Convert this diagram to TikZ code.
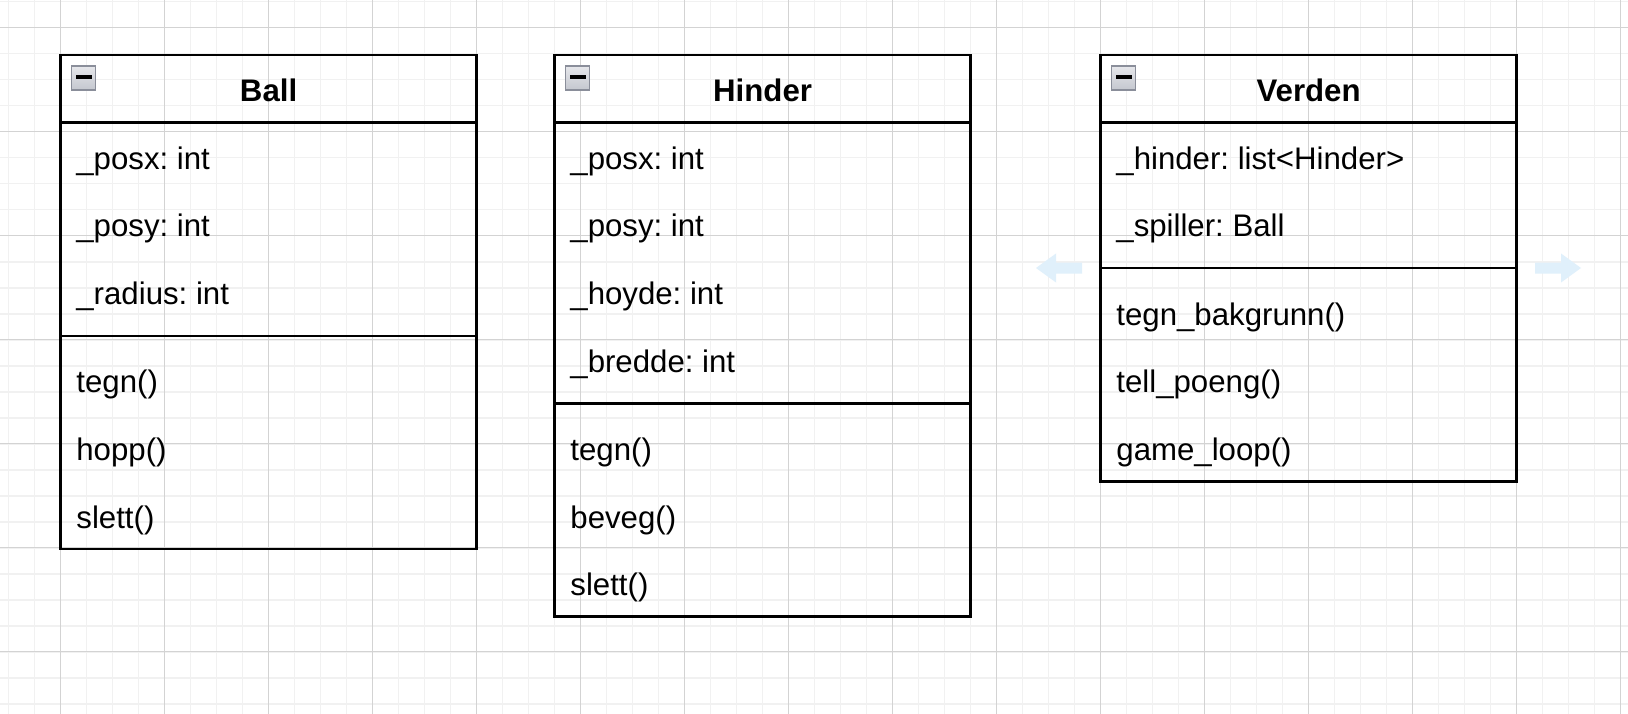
\documentclass[tikz,border=0pt]{standalone}
\usepackage{fontspec}
\setmainfont{Liberation Sans}
\frenchspacing
\definecolor{gridmin}{HTML}{F1F1F1}
\definecolor{gridmaj}{HTML}{D3D3D3}
\definecolor{iconfillA}{HTML}{E6E7EB}
\definecolor{iconfillB}{HTML}{C4C7CF}
\definecolor{iconline}{HTML}{8A8E9A}
\definecolor{hoverblue}{HTML}{E0F0FB}
\begin{document}
\frenchspacing
\begin{tikzpicture}[x=1pt,y=-1pt,
  gridminor/.style={draw=gridmin,line width=1.6pt},
  gridmajor/.style={draw=gridmaj,line width=1.3pt},
  classbox/.style={draw=black,line width=2.6pt,fill=none,anchor=north west,minimum width=416pt,inner sep=0pt,outer sep=0pt},
  sepline/.style={draw=black,line width=2.2pt},
  titletext/.style={font=\fontsize{31.2}{37}\selectfont\bfseries,anchor=base,inner sep=0pt},
  rowtext/.style={font=\fontsize{31.2}{37}\selectfont\frenchspacing,anchor=base west,inner sep=0pt},
  icon/.style={draw=iconline,line width=1.4pt,top color=iconfillA,bottom color=iconfillB},
  hoverarrow/.style={fill=hoverblue,draw=none}]
\useasboundingbox (0,0) rectangle (1628,714);
\fill[white] (0,0) rectangle (1628,714);
% grid
\foreach \k in {0,...,62} \draw[gridminor] ({8.6+26*\k},0) -- ({8.6+26*\k},714);
\foreach \k in {0,...,27} \draw[gridminor] (0,{1.7+26*\k}) -- (1628,{1.7+26*\k});
\foreach \k in {0,...,15} \draw[gridmajor] ({60.6+104*\k},0) -- ({60.6+104*\k},714);
\foreach \k in {0,...,6} \draw[gridmajor] (0,{27.7+104*\k}) -- (1628,{27.7+104*\k});

% ---------- Ball ----------
\node[classbox,minimum height=494pt] (ball) at (60.6,55) {};
\draw[sepline] (60.6,122.6) -- (476.6,122.6);
\draw[sepline] (60.6,335.8) -- (476.6,335.8);
\draw[icon] (71.6,66) rectangle (95.6,90);
\fill[black] (75.6,75.4) rectangle (91.6,78.8);
\node[titletext] (balltitle) at (268.6,101.7) {Ball};
\node[rowtext] (ballr1) at (76.2,169.3) {\_posx: int};
\node[rowtext] (ballr2) at (76.2,236.9) {\_posy: int};
\node[rowtext] (ballr3) at (76.2,304.5) {\_radius: int};
\node[rowtext] (ballm1) at (76.2,392.9) {tegn()};
\node[rowtext] (ballm2) at (76.2,460.5) {hopp()};
\node[rowtext] (ballm3) at (76.2,528.1) {slett()};

% ---------- Hinder ----------
\node[classbox,minimum height=561.6pt] (hinder) at (554.6,55) {};
\draw[sepline] (554.6,122.6) -- (970.6,122.6);
\draw[sepline] (554.6,403.4) -- (970.6,403.4);
\draw[icon] (565.6,66) rectangle (589.6,90);
\fill[black] (569.6,75.4) rectangle (585.6,78.8);
\node[titletext] (hindertitle) at (762.6,101.7) {Hinder};
\node[rowtext] (hinderr1) at (570.2,169.3) {\_posx: int};
\node[rowtext] (hinderr2) at (570.2,236.9) {\_posy: int};
\node[rowtext] (hinderr3) at (570.2,304.5) {\_hoyde: int};
\node[rowtext] (hinderr4) at (570.2,372.1) {\_bredde: int};
\node[rowtext] (hinderm1) at (570.2,460.5) {tegn()};
\node[rowtext] (hinderm2) at (570.2,528.1) {beveg()};
\node[rowtext] (hinderm3) at (570.2,595.7) {slett()};

% ---------- Verden ----------
\node[classbox,minimum height=426.4pt] (verden) at (1100.6,55) {};
\draw[sepline] (1100.6,122.6) -- (1516.6,122.6);
\draw[sepline] (1100.6,268.2) -- (1516.6,268.2);
\draw[icon] (1111.6,66) rectangle (1135.6,90);
\fill[black] (1115.6,75.4) rectangle (1131.6,78.8);
\node[titletext] (verdentitle) at (1308.6,101.7) {Verden};
\node[rowtext] (verdenr1) at (1116.2,169.3) {\_hinder: list<Hinder>};
\node[rowtext] (verdenr2) at (1116.2,236.9) {\_spiller: Ball};
\node[rowtext] (verdenm1) at (1116.2,325.3) {tegn\_bakgrunn()};
\node[rowtext] (verdenm2) at (1116.2,392.9) {tell\_poeng()};
\node[rowtext] (verdenm3) at (1116.2,460.5) {game\_loop()};

% faint hover arrows
\fill[hoverarrow] (1036,268) -- (1056,253.5) -- (1056,262.5) -- (1082,262.5) -- (1082,273.5) -- (1056,273.5) -- (1056,282.5) -- cycle;
\fill[hoverarrow] (1581,268) -- (1561,253.5) -- (1561,262.5) -- (1535,262.5) -- (1535,273.5) -- (1561,273.5) -- (1561,282.5) -- cycle;
\end{tikzpicture}
\end{document}
